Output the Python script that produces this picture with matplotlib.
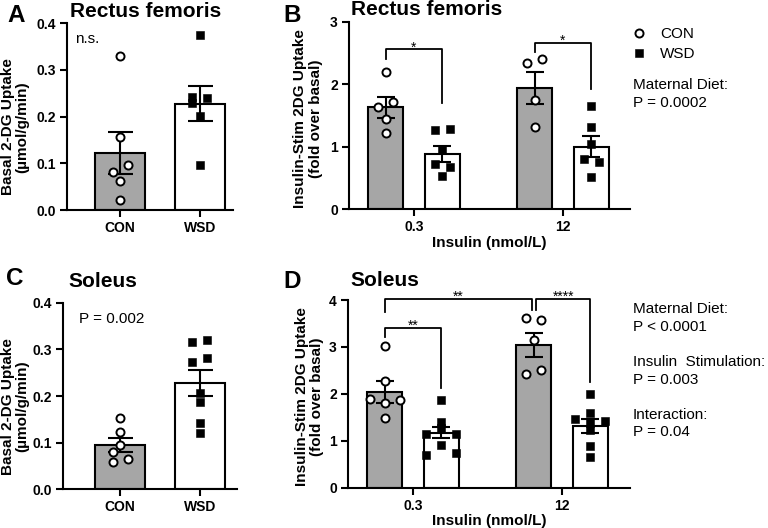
import matplotlib
matplotlib.use('Agg')
import matplotlib.pyplot as plt

plt.rcParams['font.family'] = ['Liberation Sans', 'DejaVu Sans']

W, H, DPI = 768, 528, 100

# ---------------- data ----------------
diet_labels = ['CON', 'WSD']
dose_labels = ['0.3', '12']

# Panel A - Rectus femoris, basal 2-DG uptake (umol/g/min)
A_con_pts = [0.330, 0.157, 0.096, 0.082, 0.062, 0.021]
A_wsd_pts = [0.375, 0.243, 0.229, 0.239, 0.202, 0.096]
A_mean = [0.122, 0.228]
A_sem = [0.045, 0.037]

# Panel B - Rectus femoris, insulin-stimulated (fold over basal)
B_con_pts = [[2.20, 1.72, 1.63, 1.44, 1.22], [2.34, 2.40, 1.75, 1.32]]
B_wsd_pts = [[1.27, 1.28, 0.96, 0.72, 0.67, 0.54], [1.65, 1.31, 1.04, 0.80, 0.75, 0.52]]
B_con_mean = [1.63, 1.94]
B_con_sem = [0.17, 0.26]
B_wsd_mean = [0.89, 1.00]
B_wsd_sem = [0.13, 0.17]

# Panel C - Soleus, basal
C_con_pts = [0.152, 0.122, 0.096, 0.079, 0.066, 0.059]
C_wsd_pts = [0.316, 0.319, 0.272, 0.282, 0.207, 0.188, 0.143, 0.120]
C_mean = [0.094, 0.228]
C_sem = [0.015, 0.027]

# Panel D - Soleus, insulin-stimulated
D_con_pts = [[3.02, 2.27, 1.89, 1.81, 1.87, 1.49], [3.61, 3.57, 3.15, 2.42, 2.51]]
D_wsd_pts = [[1.87, 1.40, 1.27, 1.14, 1.14, 0.91, 0.70, 0.74],
             [2.00, 1.59, 1.46, 1.43, 1.38, 1.23, 0.89, 0.66]]
D_con_mean = [2.04, 3.04]
D_con_sem = [0.23, 0.26]
D_wsd_mean = [1.17, 1.31]
D_wsd_sem = [0.12, 0.15]

basal_ticks = [0.0, 0.1, 0.2, 0.3, 0.4]
basal_ticklabels = ['0.0', '0.1', '0.2', '0.3', '0.4']
B_ticks = [0, 1, 2, 3]
D_ticks = [0, 1, 2, 3, 4]

# significance brackets: (y left end, y top, y right end, label)
B_sig = [(2.41, 2.56, 1.70, '*'), (2.51, 2.66, 1.92, '*')]
D_sig_within = [(3.22, 3.40, 2.12, '**'), (3.79, 4.02, 2.26, '****')]
D_sig_between = (3.75, 4.02, 3.79, '**')

# ---------------- layout / style ----------------
GREY = '#a6a6a6'
LW = 1.5
jit_A = [[0, 0, 1, -1, 0, 0], [0, -1, -1, 1, 0, 0]]
jit_C = [[0, 0, 0, -1, 1, -1], [-1, 1, -1, 1, 0, 0, 0, 0]]
jit_B_con = [[0, 1, -1, 0, 0], [-1, 1, 0, 0]]
jit_B_wsd = [[-1, 1, 0, -1, 1, 0], [0, 0, 0, -1, 1, 0]]
jit_D_con = [[0, 0, -2, 0, 2, 0], [-1, 1, 0, -1, 1]]
jit_D_wsd = [[0, 0, 0, -2, 2, 0, -2, 2], [0, 0, -2, 2, 0, 0, 0, 0]]
OFF = 0.19     # half distance between CON and WSD bar in grouped panels
BW2 = 0.235    # bar width grouped
BW1 = 0.625    # bar width two-bar panels


def px_rect(l, r, t, b):
    return [l / W, 1 - b / H, (r - l) / W, (b - t) / H]


def fx(px):
    return px / W


def fy(py):
    return 1 - py / H


fig = plt.figure(figsize=(W / DPI, H / DPI), dpi=DPI)


def style(ax):
    for s in ['top', 'right']:
        ax.spines[s].set_visible(False)
    for s in ['left', 'bottom']:
        ax.spines[s].set_linewidth(LW)
    ax.tick_params(axis='both', length=5, width=LW, pad=3, labelsize=10)


def points(ax, xc, vals, offs, step, kind, label=None):
    xs = [xc + o * step for o in offs]
    if kind == 'CON':
        return ax.plot(xs, vals, ls='none', marker='o', ms=5.8, mfc='white', mec='black',
                       mew=1.4, zorder=5, clip_on=False, label=label)[0]
    return ax.plot(xs, vals, ls='none', marker='s', ms=5.3, mfc='black', mec='black',
                   mew=0.4, zorder=5, clip_on=False, label=label)[0]


def bars(ax, xs, means, sems, colors, width, capsize):
    ax.bar(xs, means, width=width, color=colors, edgecolor='black', linewidth=LW, zorder=2)
    ax.errorbar(xs, means, yerr=sems, fmt='none', ecolor='black', elinewidth=LW,
                capsize=capsize, capthick=LW, zorder=4)


def bracket(ax, x1, x2, yl, yt, yr, txt):
    ax.plot([x1, x1, x2, x2], [yl, yt, yt, yr], color='black', lw=1.3, clip_on=False, zorder=6)
    ax.annotate(txt, ((x1 + x2) / 2, yt), xytext=(0, -1.5), textcoords='offset points',
                ha='center', va='baseline', fontsize=10, annotation_clip=False)


def basal_panel(rect, xlim, con_pts, wsd_pts, means, sems, jit, ylabel_xy):
    ax = fig.add_axes(rect)
    style(ax)
    step = 7.5 / (rect[2] * W / (xlim[1] - xlim[0]))
    bars(ax, [0, 1], means, sems, [GREY, 'white'], BW1, 9)
    points(ax, 0, con_pts, jit[0], step, 'CON')
    points(ax, 1, wsd_pts, jit[1], step, 'WSD')
    ax.set_xlim(*xlim)
    ax.set_ylim(0, 0.4)
    ax.set_xticks([0, 1], diet_labels, fontweight='bold', fontsize=10)
    ax.set_yticks(basal_ticks, basal_ticklabels, fontweight='bold', fontsize=10)
    ax.set_ylabel('Basal 2-DG Uptake\n(µmol/g/min)', fontweight='bold', fontsize=11,
                  linespacing=1.0, va='center', ha='center')
    ax.yaxis.set_label_coords(*ylabel_xy)
    return ax


def stim_panel(rect, xlim, ylim, ticks, con_pts, wsd_pts, cm, cs, wm, ws, jc, jw, ylabel_xy):
    ax = fig.add_axes(rect)
    style(ax)
    step = 7.5 / (rect[2] * W / (xlim[1] - xlim[0]))
    handles = []
    for g in range(2):
        bars(ax, [g - OFF, g + OFF], [cm[g], wm[g]], [cs[g], ws[g]], [GREY, 'white'], BW2, 6.5)
        h1 = points(ax, g - OFF, con_pts[g], jc[g], step, 'CON', 'CON')
        h2 = points(ax, g + OFF, wsd_pts[g], jw[g], step, 'WSD', 'WSD')
        handles = [h1, h2]
    ax.set_xlim(*xlim)
    ax.set_ylim(*ylim)
    ax.set_xticks([0, 1], dose_labels, fontweight='bold', fontsize=10)
    ax.set_yticks(ticks, [str(t) for t in ticks], fontweight='bold', fontsize=10)
    ax.set_xlabel('Insulin (nmol/L)', fontweight='bold', fontsize=11, labelpad=1)
    ax.set_ylabel('Insulin-Stim 2DG Uptake\n(fold over basal)', fontweight='bold', fontsize=11,
                  linespacing=1.1, va='center', ha='center')
    ax.yaxis.set_label_coords(*ylabel_xy)
    return ax, handles


# ---- Panel A ----
axA = basal_panel(px_rect(67, 233, 23.3, 210), (-0.666, 1.416), A_con_pts, A_wsd_pts,
                  A_mean, A_sem, jit_A, (-0.313, 0.445))
axA.text(0.048, 0.893, 'n.s.', transform=axA.transAxes, fontsize=11, va='baseline')

# ---- Panel C ----
axC = basal_panel(px_rect(63.3, 236.7, 302.7, 489.3), (-0.709, 1.459), C_con_pts, C_wsd_pts,
                  C_mean, C_sem, jit_C, (-0.279, 0.446))
axC.text(0.092, 0.89, 'P = 0.002', transform=axC.transAxes, fontsize=11, va='baseline')

# ---- Panel B ----
axB, hB = stim_panel(px_rect(349, 630, 21.7, 209.3), (-0.436, 1.45), (0, 3), B_ticks,
                     B_con_pts, B_wsd_pts, B_con_mean, B_con_sem, B_wsd_mean, B_wsd_sem,
                     jit_B_con, jit_B_wsd, (-0.146, 0.485))
for g, (yl, yt, yr, s) in enumerate(B_sig):
    bracket(axB, g - OFF, g + OFF, yl, yt, yr, s)
axB.legend(hB, diet_labels, loc='upper left', bbox_to_anchor=(fx(631.5), fy(27)),
           bbox_transform=fig.transFigure, frameon=False, fontsize=11, handlelength=1.0,
           handletextpad=0.85, borderpad=0, borderaxespad=0, labelspacing=0.4)

# ---- Panel D ----
axD, hD = stim_panel(px_rect(348, 630, 300, 487.7), (-0.436, 1.455), (0, 4), D_ticks,
                     D_con_pts, D_wsd_pts, D_con_mean, D_con_sem, D_wsd_mean, D_wsd_sem,
                     jit_D_con, jit_D_wsd, (-0.138, 0.485))
for g, (yl, yt, yr, s) in enumerate(D_sig_within):
    x1 = g - OFF + (0.015 if g == 1 else 0)
    bracket(axD, x1, g + OFF, yl, yt, yr, s)
yl, yt, yr, s = D_sig_between
bracket(axD, -OFF, 1 - OFF - 0.015, yl, yt, yr, s)

# ---- titles, panel letters, side texts ----
fig.text(fx(70), fy(16.7), 'Rectus femoris', fontsize=15, fontweight='bold', va='baseline')
fig.text(fx(350.7), fy(15), 'Rectus femoris', fontsize=15, fontweight='bold', va='baseline')
fig.text(fx(68), fy(287), 'Soleus', fontsize=15, fontweight='bold', va='baseline')
fig.text(fx(350.7), fy(286), 'Soleus', fontsize=15, fontweight='bold', va='baseline')

for lbl, x, y in [('A', 7, 21.7), ('B', 283, 22), ('C', 6, 285), ('D', 283, 288)]:
    fig.text(fx(x), fy(y), lbl, fontsize=17.5, fontweight='bold', va='baseline')

fig.text(fx(633), fy(78), 'Maternal Diet:\nP = 0.0002', fontsize=11, va='top',
         linespacing=1.33)
fig.text(fx(633), fy(302), 'Maternal Diet:\nP < 0.0001\n\nInsulin  Stimulation:\nP = 0.003'
         '\n\nInteraction:\nP = 0.04', fontsize=11, va='top', linespacing=1.33)

fig.savefig('out.png', dpi=DPI)
